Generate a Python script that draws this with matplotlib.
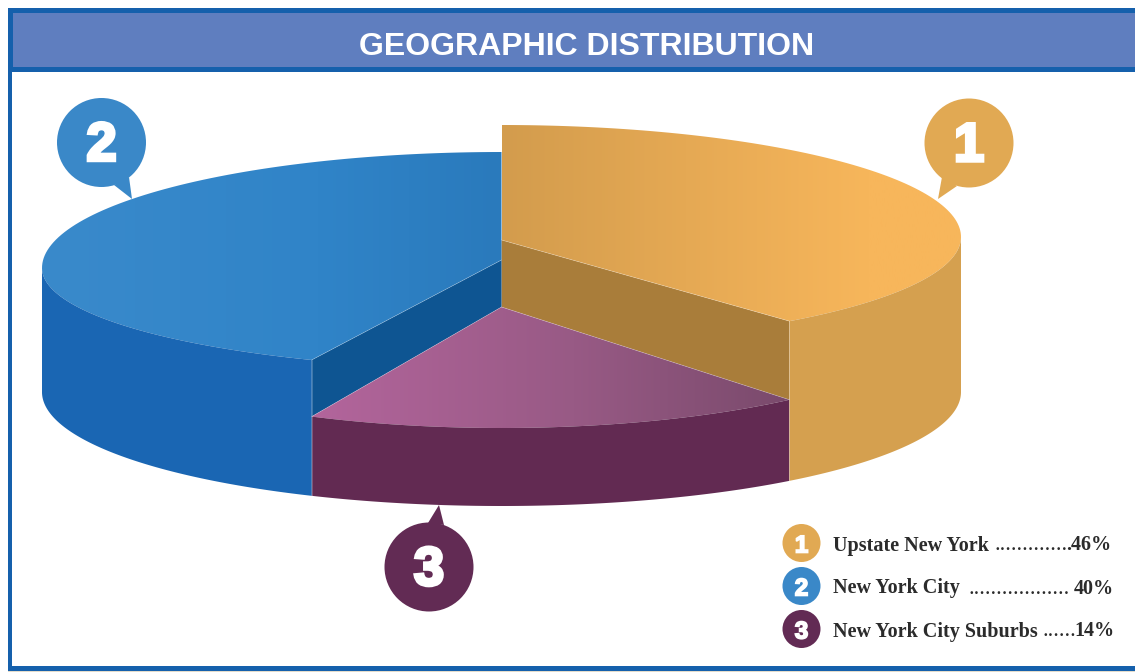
#!/usr/bin/env python3
import numpy as np
import matplotlib
matplotlib.use('Agg')
import matplotlib.pyplot as plt
import matplotlib.patheffects as pe
from matplotlib.colors import LinearSegmentedColormap
from matplotlib.patches import Circle, Polygon, Rectangle

TITLE = 'GEOGRAPHIC DISTRIBUTION'
regions = ['Upstate New York', 'New York City', 'New York City Suburbs']
shares = [46, 40, 14]
pct_labels = ['.46%', '40%', '14%']
leaders = ['.............', '..................', '......']

# the artwork does not draw slices in proportion to the shares, these sweeps are read off it
sweep_upstate = 141.2
sweep_city = 155.6
sweep_suburbs = 63.2

PX_W, PX_H = 1135, 672
CX, RX = 501.5, 459.5

BORDER = '#1560AC'
HEADER = '#5F7EBF'
ORANGE = '#E1A953'
BLUE = '#3A88C8'
PURPLE = '#622B54'


def arc(t0, t1, cy, ry_back, ry_front, n=120):
    t = np.radians(np.linspace(t0, t1, n))
    s = np.sin(t)
    ry = np.where(s > 0, ry_back, ry_front)
    return np.column_stack([CX + RX * np.cos(t), cy - ry * s])


def flat(ax, pts, color):
    ax.add_patch(Polygon(pts, closed=True, facecolor=color, edgecolor='none'))


def gradient(ax, pts, x0, x1, stops):
    # horizontal gradient clipped to the outline
    cmap = LinearSegmentedColormap.from_list('g', stops)
    img = ax.imshow(np.linspace(0, 1, 256).reshape(1, -1), cmap=cmap, aspect='auto',
                    extent=[x0, x1, PX_H, 0], interpolation='bilinear', zorder=2)
    clip = Polygon(pts, closed=True, transform=ax.transData, facecolor='none', edgecolor='none')
    ax.add_patch(clip)
    img.set_clip_path(clip)


def seam(ax, p0, p1):
    ax.plot([p0[0], p1[0]], [p0[1], p1[1]], color='white', lw=0.5, alpha=0.3, zorder=3)


def digit(ax, x, y, label, size, stroke, zorder=5):
    # heavy number, the stroke stands in for the black extended face of the original
    t = ax.text(x, y, label, color='white', fontsize=size, fontweight='bold',
                family='Liberation Sans', ha='center', va='baseline', zorder=zorder)
    t.set_path_effects([pe.withStroke(linewidth=stroke, foreground='white', joinstyle='miter')])


def callout(ax, cx, cy, r, tip, base0, base1, color, label):
    ax.add_patch(Polygon([tip, base0, base1], closed=True, facecolor=color, edgecolor='none', zorder=4))
    ax.add_patch(Circle((cx, cy), r, facecolor=color, edgecolor='none', zorder=4))
    digit(ax, cx, cy + 18, label, 39, 2.5)


fig = plt.figure(figsize=(PX_W / 100, PX_H / 100), dpi=100, facecolor='white')
ax = fig.add_axes([0, 0, 1, 1])
ax.set_xlim(0, PX_W)
ax.set_ylim(PX_H, 0)
ax.axis('off')

# frame and header
ax.add_patch(Rectangle((8, 8), PX_W, 64, facecolor=BORDER, edgecolor='none'))
ax.add_patch(Rectangle((13, 13), PX_W, 54, facecolor=HEADER, edgecolor='none'))
ax.add_patch(Rectangle((8, 8), 4, 662, facecolor=BORDER, edgecolor='none'))
ax.add_patch(Rectangle((8, 666), PX_W, 4.5, facecolor=BORDER, edgecolor='none'))
ax.add_patch(Rectangle((8, 670.5), PX_W, 1.5, facecolor='#E4DCCB', edgecolor='none'))
ax.text(587, 55, TITLE, color='white', fontsize=23, fontweight='bold',
        family='Liberation Sans', ha='center', va='baseline')

# slice bounds, clockwise from the top for upstate, counter clockwise for the city
t_up_end = 90 - sweep_upstate
t_sub_end = t_up_end - sweep_suburbs
t_city_end = 90 + sweep_city

# top and bottom ellipses of the exploded pieces
up_top = (237, 112, 108)
city_top = (268, 116, 101)
sub_top = (300, 128, 128)
floor = (392, 114, 114)

up_arc = arc(90, t_up_end, *up_top)
city_arc = arc(90, t_city_end, *city_top)
sub_arc = arc(t_up_end, t_sub_end, *sub_top)

up_apex = (CX, 240)
city_apex = (CX, 260)
sub_apex = (CX, 307)

# inner walls
up_in = up_arc[-1]
city_in = city_arc[-1]
flat(ax, [up_apex, up_in, sub_arc[0], sub_apex], '#A97D3A')
flat(ax, [city_apex, city_in, sub_arc[-1], sub_apex], '#0E5592')

# suburbs top
gradient(ax, np.vstack([[sub_apex], sub_arc]), 312, 789,
         [(0, '#B3659C'), (0.55, '#985A85'), (1, '#7A4A6C')])

# outer sides
up_side = np.vstack([arc(0, t_up_end, *up_top), arc(t_up_end, 0, *floor)])
city_side = np.vstack([arc(180, t_city_end, *city_top), arc(t_city_end, 180, *floor)])
sub_side = np.vstack([sub_arc, arc(t_sub_end, t_up_end, *floor)])
ax.add_patch(Polygon(sub_side, closed=True, facecolor='#622A52', edgecolor='none', zorder=2.5))
ax.add_patch(Polygon(up_side, closed=True, facecolor='#D5A04F', edgecolor='none', zorder=2.5))
ax.add_patch(Polygon(city_side, closed=True, facecolor='#1A66B3', edgecolor='none', zorder=2.5))

# tops
gradient(ax, np.vstack([[up_apex], up_arc]), CX, 961,
         [(0, '#D39C4D'), (0.8, '#F7B65B'), (1, '#F7B65B')])
gradient(ax, np.vstack([[city_apex], city_arc]), 42, CX,
         [(0, '#3A8ACB'), (0.6, '#3084C8'), (1, '#2A7ABC')])

# light seams on the cut edges
seam(ax, up_apex, up_in)
seam(ax, up_in, (up_in[0], arc(t_up_end, t_up_end, *floor, n=1)[0][1]))
seam(ax, city_apex, city_in)
seam(ax, city_in, (city_in[0], arc(t_city_end, t_city_end, *floor, n=1)[0][1]))
seam(ax, sub_apex, sub_arc[0])
seam(ax, sub_apex, sub_arc[-1])

# callouts on the pie
callout(ax, 969, 143, 44.5, (938, 199), (942, 177), (957, 186), ORANGE, '1')
callout(ax, 101.5, 142.5, 44.5, (132, 199), (129, 177), (114, 185), BLUE, '2')
callout(ax, 429, 567, 44.5, (439, 505), (428, 523), (444, 525), PURPLE, '3')

# legend
legend_colors = [ORANGE, BLUE, PURPLE]
legend_y = [543, 586, 629]
leader_x = [994, 969, 1042]
pct_x = [1111.5, 1113.5, 1114.5]
for i, name in enumerate(regions):
    y = legend_y[i]
    ax.add_patch(Circle((801.5, y), 19, facecolor=legend_colors[i], edgecolor='none'))
    digit(ax, 801.5, y + 9.5, str(i + 1), 17.5, 1.2, zorder=3)
    ax.text(833, y + 7.5, name, color='#2B2B2B', fontsize=14.5, fontweight='bold',
            family='Liberation Serif', ha='left', va='baseline')
    ax.text(leader_x[i], y + 7.5, leaders[i], color='#2B2B2B', fontsize=16,
            family='Liberation Serif', ha='left', va='baseline')
    ax.text(pct_x[i], y + 7.5, pct_labels[i], color='#2B2B2B', fontsize=14.5, fontweight='bold',
            family='Liberation Serif', ha='right', va='baseline')

ax.set_xlim(0, PX_W)
ax.set_ylim(PX_H, 0)
fig.savefig('out.png', dpi=100, facecolor='white')
